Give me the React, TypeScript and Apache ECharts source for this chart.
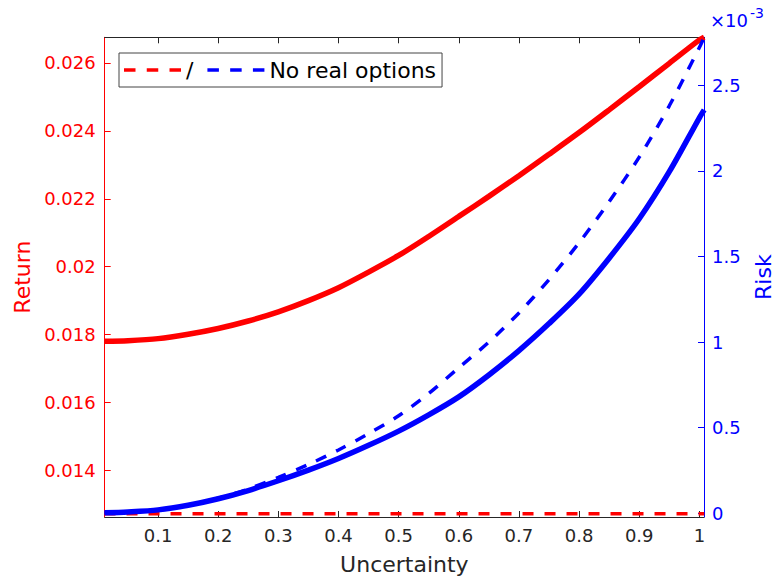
import React, { useEffect, useRef } from "react";
import * as echarts from "echarts";

// Uncertainty (x) sample points
const uncertainty = [0.011, 0.05, 0.1, 0.15, 0.2, 0.25, 0.3, 0.35, 0.4, 0.45, 0.5, 0.55, 0.6, 0.65, 0.7, 0.75, 0.8, 0.85, 0.9, 0.95, 1.0, 1.008];

// Return with real options (red solid)
const returnReal = [0.0178, 0.01782, 0.01788, 0.01801, 0.01818, 0.0184, 0.01867, 0.019, 0.01938, 0.01984, 0.02033, 0.02089, 0.02148, 0.02207, 0.02268, 0.02331, 0.02395, 0.02462, 0.0253, 0.02599, 0.02668, 0.02676];
// Return, "/" (red dashed)
const returnSlash = [0.01272, 0.01272, 0.01272, 0.01272, 0.01272, 0.01272, 0.01272, 0.01272, 0.01272, 0.01272, 0.01272, 0.01272, 0.01272, 0.01272, 0.01272, 0.01272, 0.01272, 0.01272, 0.01272, 0.01272, 0.01272, 0.01272];

// Risk (in units of 1e-3) with real options (blue solid)
const riskReal = [0.003, 0.008, 0.02, 0.047, 0.085, 0.133, 0.19, 0.252, 0.32, 0.397, 0.48, 0.575, 0.68, 0.808, 0.95, 1.108, 1.28, 1.49, 1.72, 1.995, 2.31, 2.356];
// Risk (1e-3), no real options (blue dashed)
const riskNoRO = [0.003, 0.008, 0.02, 0.048, 0.088, 0.142, 0.21, 0.285, 0.37, 0.465, 0.57, 0.7, 0.85, 1.0, 1.17, 1.365, 1.58, 1.82, 2.08, 2.38, 2.72, 2.78];

const xTicks = [0.1, 0.2, 0.3, 0.4, 0.5, 0.6, 0.7, 0.8, 0.9, 1];
const returnTicks = [0.014, 0.016, 0.018, 0.02, 0.022, 0.024, 0.026];
const riskTicks = [0, 0.5, 1, 1.5, 2, 2.5];

const FONT = "DejaVu Sans";
const DARK = "#262626";
const RED = "#ff0000";
const BLUE = "#0000ff";
const DASH_ICON = "path://M0,0H11.5V3.5H0Z M22.75,0H34.25V3.5H22.75Z M45.5,0H57V3.5H45.5Z";

export default function App() {
  const ref = useRef<HTMLDivElement>(null);
  useEffect(() => {
    const chart = echarts.init(ref.current!, null, { renderer: "svg" });
    const pair = (ys: number[]) => uncertainty.map((x, i) => [x, ys[i]]);
    const xMin = 0.0113;
    const xMax = 1.0077;
    chart.setOption({
      animation: false,
      backgroundColor: "#ffffff",
      textStyle: { fontFamily: FONT },
      grid: { left: 104.7, right: 70.3, top: 37.3, bottom: 65, containLabel: false },
      legend: {
        left: 119,
        top: 53,
        orient: "horizontal",
        data: [
          { name: "/", icon: DASH_ICON },
          { name: "No real options", icon: DASH_ICON },
        ],
        itemWidth: 57,
        itemHeight: 3.5,
        itemGap: 14,
        symbolKeepAspect: false,
        padding: [6, 6, 6, 5],
        borderColor: "#444444",
        borderWidth: 1,
        borderRadius: 0,
        backgroundColor: "#ffffff",
        selectedMode: false,
        textStyle: { fontSize: 22, color: "#000000", fontFamily: FONT },
      },
      xAxis: [
        {
          type: "value",
          position: "bottom",
          min: xMin,
          max: xMax,
          axisLine: { show: true, onZero: false, lineStyle: { color: DARK, width: 1 } },
          axisTick: { show: true, inside: true, length: 6, customValues: xTicks, lineStyle: { color: DARK } },
          axisLabel: { customValues: xTicks, color: DARK, fontSize: 18, margin: 9, fontFamily: FONT },
          splitLine: { show: false },
          name: "Uncertainty",
          nameLocation: "middle",
          nameGap: 36,
          nameTextStyle: { fontSize: 22, color: DARK, fontFamily: FONT },
        },
        {
          type: "value",
          position: "top",
          min: xMin,
          max: xMax,
          axisLine: { show: true, onZero: false, lineStyle: { color: DARK, width: 1 } },
          axisTick: { show: true, inside: true, length: 6, customValues: xTicks, lineStyle: { color: DARK } },
          axisLabel: { show: false },
          splitLine: { show: false },
        },
      ],
      yAxis: [
        {
          type: "value",
          position: "left",
          min: 0.012626,
          max: 0.026756,
          axisLine: { show: true, onZero: false, lineStyle: { color: RED, width: 1 } },
          axisTick: { show: true, inside: true, length: 6, customValues: returnTicks, lineStyle: { color: RED } },
          axisLabel: { customValues: returnTicks, color: RED, fontSize: 18, margin: 9, fontFamily: FONT },
          splitLine: { show: false },
          name: "Return",
          nameLocation: "middle",
          nameRotate: 90,
          nameGap: 68,
          nameTextStyle: { fontSize: 22, color: RED, fontFamily: FONT },
        },
        {
          type: "value",
          position: "right",
          min: -0.0216,
          max: 2.78,
          axisLine: { show: true, onZero: false, lineStyle: { color: BLUE, width: 1 } },
          axisTick: { show: true, inside: true, length: 6, customValues: riskTicks, lineStyle: { color: BLUE } },
          axisLabel: { customValues: riskTicks, color: BLUE, fontSize: 18, margin: 8, fontFamily: FONT },
          splitLine: { show: false },
          name: "Risk",
          nameLocation: "middle",
          nameRotate: 90,
          nameGap: 48,
          nameTextStyle: { fontSize: 22, color: BLUE, fontFamily: FONT },
        },
      ],
      series: [
        {
          name: "Return (real options)",
          type: "line",
          xAxisIndex: 0,
          yAxisIndex: 0,
          data: pair(returnReal),
          showSymbol: false,
          symbol: "none",
          smooth: 0.3,
          lineStyle: { color: RED, width: 5.5 },
          itemStyle: { color: RED },
        },
        {
          name: "/",
          type: "line",
          xAxisIndex: 0,
          yAxisIndex: 0,
          data: pair(returnSlash),
          showSymbol: false,
          symbol: "none",
          lineStyle: { color: RED, width: 3.5, type: [11, 11] },
          itemStyle: { color: RED },
        },
        {
          name: "Risk (real options)",
          type: "line",
          xAxisIndex: 0,
          yAxisIndex: 1,
          data: pair(riskReal),
          showSymbol: false,
          symbol: "none",
          smooth: 0.3,
          lineStyle: { color: BLUE, width: 5.5 },
          itemStyle: { color: BLUE },
        },
        {
          name: "No real options",
          type: "line",
          xAxisIndex: 0,
          yAxisIndex: 1,
          data: pair(riskNoRO),
          showSymbol: false,
          symbol: "none",
          smooth: 0.3,
          lineStyle: { color: BLUE, width: 3.5, type: [11, 11] },
          itemStyle: { color: BLUE },
        },
      ],
      graphic: [
        {
          type: "text",
          x: 710,
          y: 20,
          style: { text: "×10", fill: BLUE, font: `18px "${FONT}"`, textVerticalAlign: "middle", textAlign: "left" },
        },
        {
          type: "text",
          x: 750,
          y: 13,
          style: { text: "-3", fill: BLUE, font: `14px "${FONT}"`, textVerticalAlign: "middle", textAlign: "left" },
        },
      ],
    });
    return () => chart.dispose();
  }, []);
  return <div ref={ref} style={{ position: "fixed", left: 0, top: 0, width: 782, height: 582 }} />;
}
